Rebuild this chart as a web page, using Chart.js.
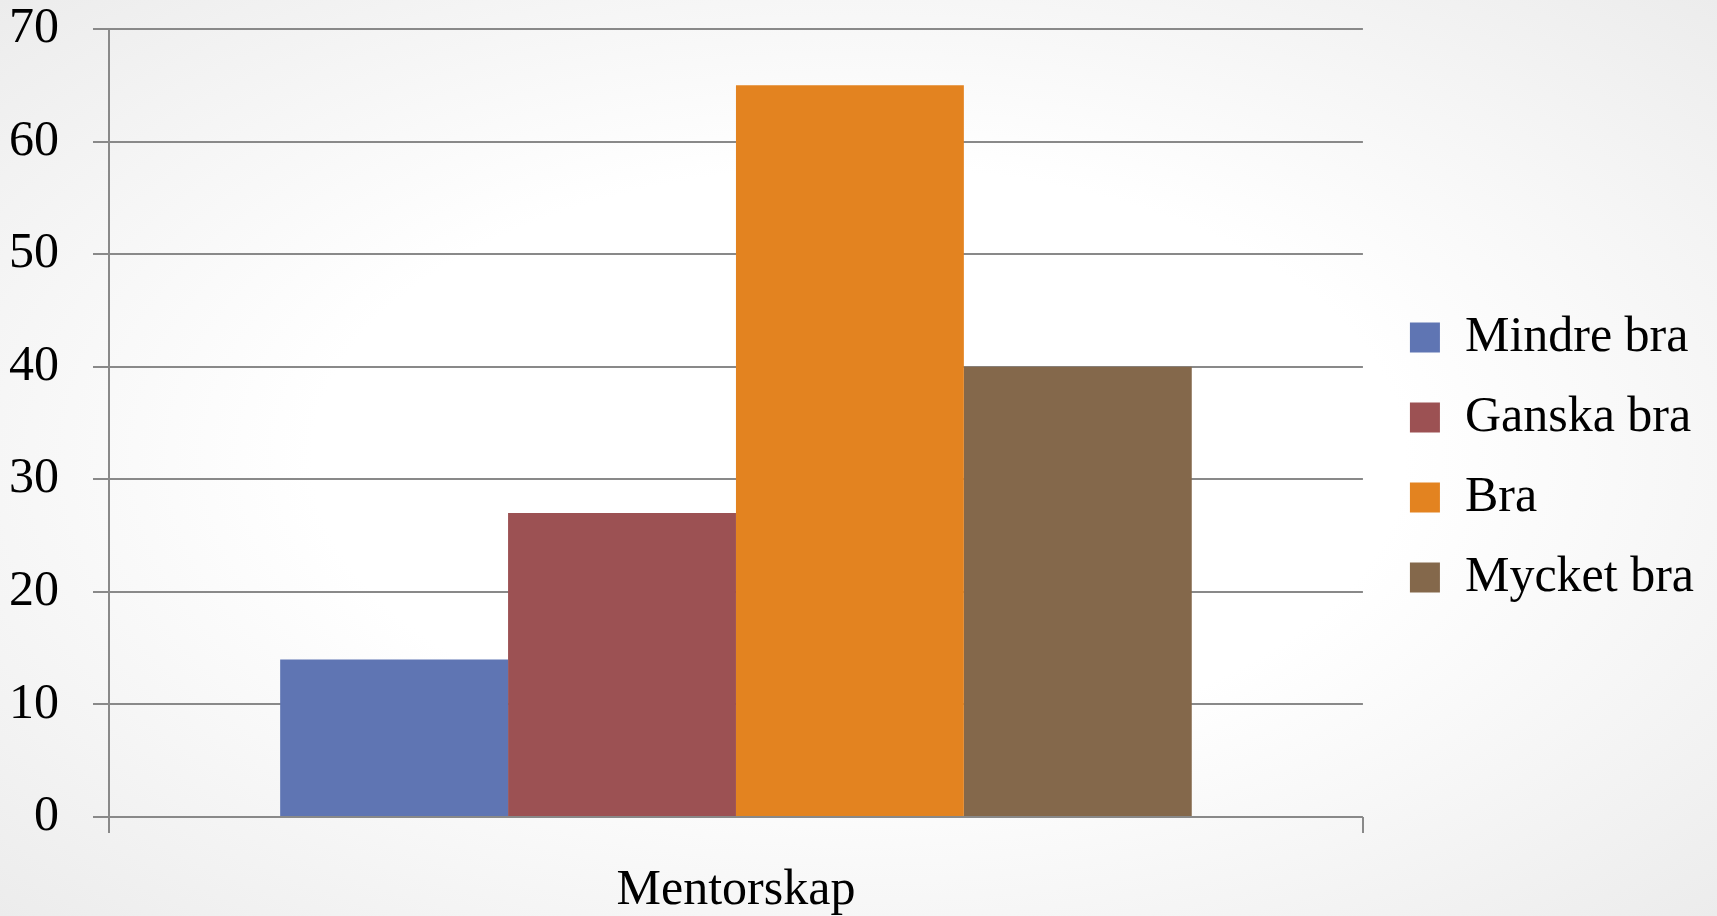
<!DOCTYPE html>
<html>
<head>
<meta charset="utf-8">
<script src="https://cdn.jsdelivr.net/npm/chart.js@4/dist/chart.umd.min.js"></script>
<style>
    html, body {
        margin: 0;
        padding: 0;
        width: 1717px;
        height: 916px;
        overflow: hidden;
        background: radial-gradient(ellipse at 50% 50%, #ffffff 45%, #ececec 100%);
    }
    #mentorChart {
        display: block;
    }
</style>
</head>
<body>
<canvas id="mentorChart" width="1717" height="916"></canvas>
<script>
const categories = ['Mentorskap'];
const seriesNames = ['Mindre bra', 'Ganska bra', 'Bra', 'Mycket bra'];
const seriesValues = [14, 27, 65, 40];
const seriesColors = ['#5F75B3', '#9C5153', '#E38320', '#84684B'];
const yMin = 0;
const yMax = 70;
const yStep = 10;

const axisGrey = '#898989';
const fontFamily = '"Liberation Serif", "Times New Roman", serif';

// nudge the legend a bit away from the plot, like the original slide
const legendOffset = { x: 17, y: -15 };

const legendNudge = {
    id: 'legendNudge',
    afterLayout(chart) {
        const legend = chart.legend;
        if (!legend) return;
        legend.left += legendOffset.x;
        legend.right += legendOffset.x;
        legend.top += legendOffset.y;
        legend.bottom += legendOffset.y;
    }
};

function buildDatasets() {
    return seriesNames.map((name, i) => ({
        label: name,
        data: [seriesValues[i]],
        backgroundColor: seriesColors[i],
        borderWidth: 0,
        barPercentage: 1,
        categoryPercentage: 0.727
    }));
}

function renderChart() {
    const canvas = document.getElementById('mentorChart');
    if (!canvas) return;

    const ctx = canvas.getContext('2d');

    new Chart(ctx, {
        type: 'bar',
        data: {
            labels: categories,
            datasets: buildDatasets()
        },
        plugins: [legendNudge],
        options: {
            responsive: false,
            animation: false,
            devicePixelRatio: 1,
            layout: {
                padding: { left: 9, right: 30, top: 29, bottom: 0 }
            },
            plugins: {
                legend: {
                    position: 'right',
                    align: 'center',
                    labels: {
                        boxWidth: 30,
                        boxHeight: 30,
                        padding: 30,
                        color: '#000000',
                        font: { family: fontFamily, size: 50 }
                    }
                },
                tooltip: { enabled: false }
            },
            scales: {
                x: {
                    afterFit(scale) {
                        scale.height = 99;
                    },
                    grid: {
                        offset: true,
                        drawOnChartArea: false,
                        color: axisGrey,
                        lineWidth: 2,
                        tickLength: 16
                    },
                    border: { display: false },
                    ticks: {
                        color: '#000000',
                        padding: 28,
                        font: { family: fontFamily, size: 50 }
                    }
                },
                y: {
                    min: yMin,
                    max: yMax,
                    afterFit(scale) {
                        scale.width = 100;
                        scale.paddingTop = 0;
                        scale.paddingBottom = 0;
                    },
                    grid: {
                        color: axisGrey,
                        lineWidth: 2,
                        tickLength: 16
                    },
                    border: { display: true, color: axisGrey, width: 2 },
                    ticks: {
                        stepSize: yStep,
                        color: '#000000',
                        padding: 34,
                        font: { family: fontFamily, size: 50 }
                    }
                }
            }
        }
    });
}

renderChart();
</script>
</body>
</html>
